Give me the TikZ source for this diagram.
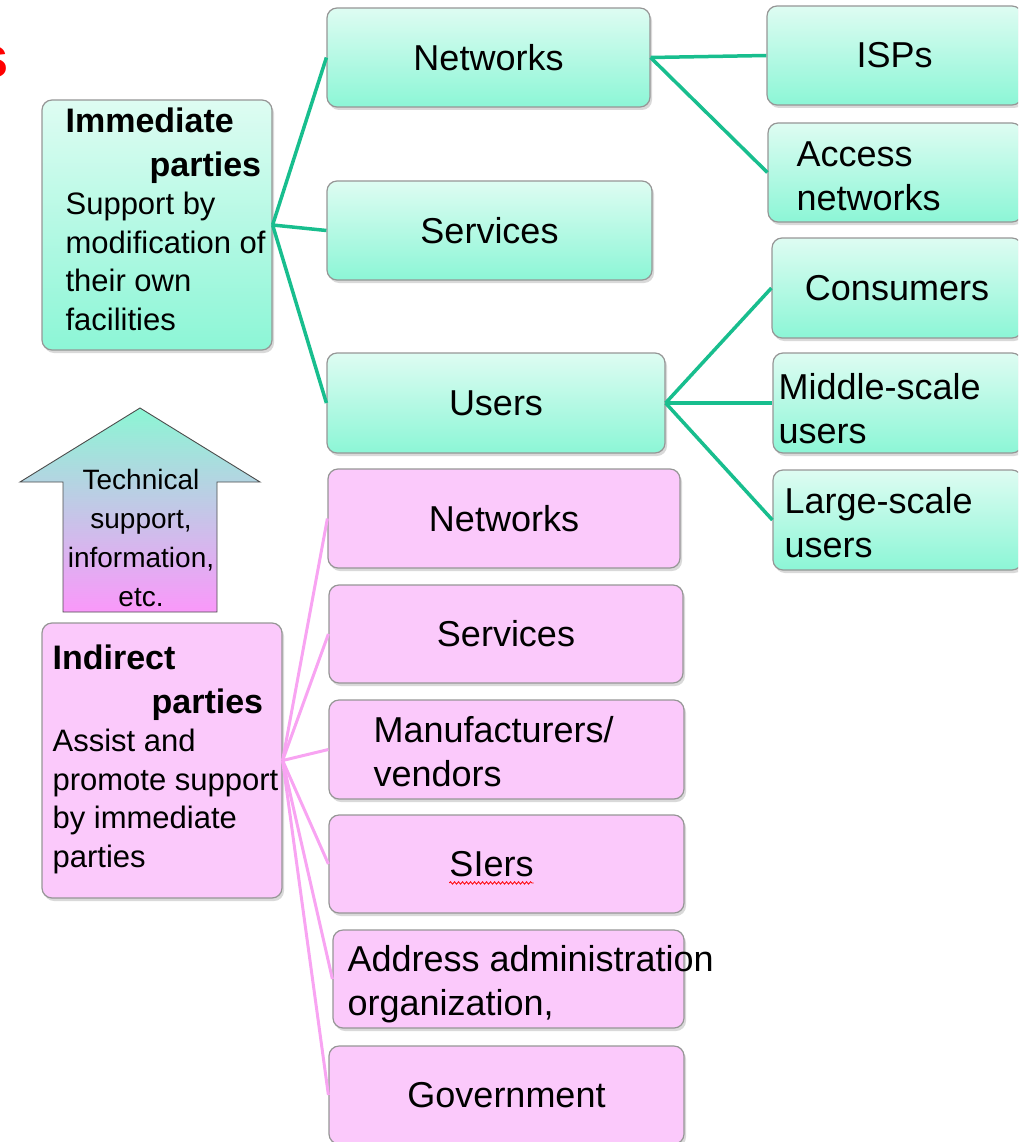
\documentclass[tikz,border=0pt]{standalone}
\usepackage{fontspec}
\setmainfont{Liberation Sans}
\usetikzlibrary{shadows,decorations.pathmorphing,positioning}
\definecolor{mintTop}{RGB}{222,252,242}
\definecolor{mintBot}{RGB}{140,246,214}
\definecolor{pinkFill}{RGB}{251,201,251}
\definecolor{greenLine}{RGB}{24,190,142}
\definecolor{pinkLine}{RGB}{248,164,242}
\definecolor{arrowTop}{RGB}{140,246,212}
\definecolor{arrowMid}{RGB}{202,208,232}
\definecolor{arrowBot}{RGB}{250,152,250}
\definecolor{boxLine}{RGB}{150,150,150}
\newcommand{\hdfont}{\bfseries\fontsize{34}{44}\selectfont}
\newcommand{\dsfont}{\fontsize{31}{38.5}\selectfont}
\newcommand{\lbfont}{\fontsize{36}{44}\selectfont}

\begin{document}
\begin{tikzpicture}[x=1pt,y=-1pt,
  box/.style={draw=boxLine, line width=1.2pt, rounded corners=10pt, inner sep=0pt, font=\lbfont,
    drop shadow={shadow xshift=2pt, shadow yshift=-3pt, opacity=0.3}},
  gbox/.style={box, top color=mintTop, bottom color=mintBot},
  pbox/.style={box, fill=pinkFill},
  txt/.style={inner sep=0pt, font=\lbfont, align=left},
  gline/.style={greenLine, line width=3.5pt},
  pline/.style={pinkLine, line width=3pt}]
\useasboundingbox (0,0) rectangle (1018,1142);
\clip (0,0) rectangle (1018,1142);

\node[text=red, font=\bfseries\fontsize{58}{58}\selectfont, anchor=base east, inner sep=0pt] (ttl) at (9,78) {s};

\node[gbox, minimum width=230, minimum height=250] (imm) at (157,225) {};
\node[txt, font=\dsfont, anchor=north west] (immtxt) at ([shift={(24,8)}]imm.north west)
  {{\hdfont Immediate}\\[5.5pt]{\hdfont\hspace*{84pt}parties}\\Support by\\modification of\\their own\\facilities};
\node[gbox, minimum width=323, minimum height=99] (gnet) at (488.5,57.5) {Networks};
\node[gbox, minimum width=325, minimum height=99] (gsrv) at (489.5,230.5) {Services};
\node[gbox, minimum width=338, minimum height=100] (gusr) at (496,403) {Users};

\node[gbox, minimum width=255, minimum height=99] (isp) at (894.5,55.5) {ISPs};
\node[gbox, minimum width=254, minimum height=99] (acc) at (895,172.5) {};
\node[txt, anchor=west] (acctxt) at ([shift={(29,4)}]acc.west) {Access\\networks};
\node[gbox, minimum width=250, minimum height=100] (cons) at (897,288) {Consumers};
\node[gbox, minimum width=249, minimum height=100] (mid) at (897.5,403) {};
\node[txt, anchor=west] (midtxt) at ([shift={(6,6)}]mid.west) {Middle-scale\\users};
\node[gbox, minimum width=249, minimum height=100] (lrg) at (897.5,520) {};
\node[txt, anchor=west] (lrgtxt) at ([shift={(12,3)}]lrg.west) {Large-scale\\users};

\shade[top color=arrowTop, middle color=arrowMid, bottom color=arrowBot, draw=black!70, line width=0.9pt]
  (140,408) -- (260,482) -- (217,482) -- (217,612) -- (63,612) -- (63,482) -- (20,482) -- cycle;
\node[inner sep=0pt, align=center, font=\fontsize{28}{39}\selectfont] (tech) at (141,538)
  {Technical\\support,\\information,\\etc.};

\node[pbox, minimum width=240, minimum height=275] (ind) at (162,760.5) {};
\node[txt, font=\dsfont, anchor=north west] (indtxt) at ([shift={(11,22)}]ind.north west)
  {{\hdfont Indirect}\\[5.5pt]{\hdfont\hspace*{99pt}parties}\\Assist and\\promote support\\by immediate\\parties};
\node[pbox, minimum width=352, minimum height=99] (pnet) at (504,518.5) {Networks};
\node[pbox, minimum width=354, minimum height=98] (psrv) at (506,634) {Services};
\node[pbox, minimum width=355, minimum height=99] (pman) at (506.5,749.5) {};
\node[txt, anchor=west] (pmantxt) at ([shift={(45,2)}]pman.west) {Manufacturers/\\vendors};
\node[pbox, minimum width=355, minimum height=98] (psie) at (506.5,864) {};
\node[txt] (psietxt) at ([xshift=-15pt]psie.center) {SIers};
\node[pbox, minimum width=351, minimum height=98] (padr) at (508.5,979) {};
\node[txt, anchor=west] (padrtxt) at ([shift={(15,5)}]padr.west) {Address administration\\organization,};
\node[pbox, minimum width=355, minimum height=98] (pgov) at (506.5,1095) {Government};

\draw[red, line width=0.8pt, decorate, decoration={snake, amplitude=1.2pt, segment length=4pt}]
  ([yshift=-6pt]psietxt.south west) -- ([yshift=-6pt]psietxt.south east);

\foreach \t in {gnet,gsrv,gusr}
  \draw[gline] (imm.east) -- (\t.west);
\foreach \t in {isp,acc}
  \draw[gline] (gnet.east) -- (\t.west);
\foreach \t in {cons,mid,lrg}
  \draw[gline] (gusr.east) -- (\t.west);
\foreach \t in {pnet,psrv,pman,psie,padr,pgov}
  \draw[pline] (ind.east) -- (\t.west);
\end{tikzpicture}
\end{document}
